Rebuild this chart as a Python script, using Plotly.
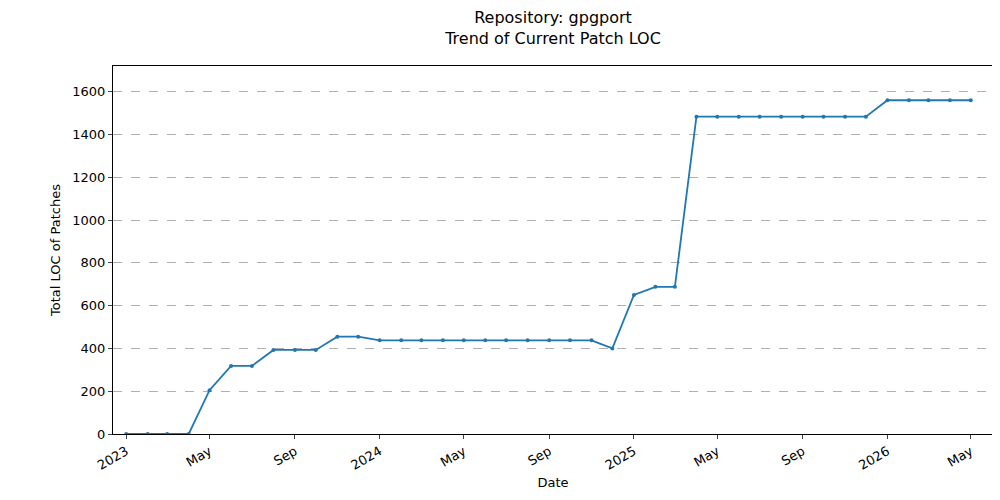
import pandas as pd
import plotly.graph_objects as go

dates = pd.date_range("2023-01-01", "2026-05-01", freq="MS")
loc = [0, 0, 0, 0, 205, 318, 318, 393, 393, 393, 455, 455,
       438, 438, 438, 438, 438, 438, 438, 438, 438, 438, 438, 400,
       650, 688, 688, 1483, 1483, 1483, 1483, 1483, 1483, 1483, 1483, 1483,
       1560, 1560, 1560, 1560, 1560]

tick_vals = ["2023-01-01", "2023-05-01", "2023-09-01", "2024-01-01", "2024-05-01",
             "2024-09-01", "2025-01-01", "2025-05-01", "2025-09-01", "2026-01-01", "2026-05-01"]
tick_text = ["2023", "May", "Sep", "2024", "May", "Sep", "2025", "May", "Sep", "2026", "May"]

fig = go.Figure()
fig.add_trace(go.Scatter(
    x=dates, y=loc, mode="lines+markers",
    line=dict(color="#1f77b4", width=1.8),
    marker=dict(size=4, color="#1f77b4")))

fig.update_layout(
    width=1000, height=500,
    paper_bgcolor="white", plot_bgcolor="white",
    font=dict(family="DejaVu Sans", size=13, color="black"),
    margin=dict(l=105, r=15, t=58, b=74),
    showlegend=False,
    title=dict(text="Repository: gpgport<br>Trend of Current Patch LOC",
               x=0.545, xanchor="center", y=0.97, yanchor="top", font=dict(size=16)),
)
fig.update_xaxes(
    range=["2022-12-13", "2026-06-02"], automargin=False,
    tickvals=tick_vals, ticktext=tick_text, tickangle=-30,
    ticks="outside", ticklen=4, showgrid=False,
    showline=True, linecolor="black", mirror=True,
    title=dict(text="Date", standoff=6, font=dict(size=13)))
fig.update_yaxes(
    range=[0, 1720], dtick=200, automargin=False,
    ticks="outside", ticklen=4,
    showgrid=True, gridcolor="#b0b0b0", griddash="dash", gridwidth=0.5,
    showline=True, linecolor="black", mirror=True, zeroline=False,
    title=dict(text="Total LOC of Patches", standoff=8, font=dict(size=13)))

fig.write_html("out.html")
